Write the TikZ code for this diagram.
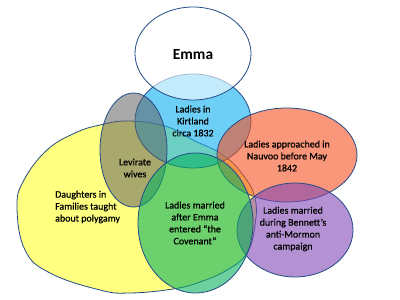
\documentclass[tikz,border=0pt]{standalone}
\usepackage{fontspec}
\setmainfont{Carlito}
\newfontfamily\lblfont[FakeBold=0.7]{Carlito}
\definecolor{edgec}{RGB}{35,75,135}
\definecolor{yel}{RGB}{255,255,128}
\definecolor{blu}{RGB}{12,175,240}
\definecolor{gry}{RGB}{94,94,94}
\definecolor{tea}{RGB}{10,178,95}
\definecolor{sal}{RGB}{247,80,33}
\definecolor{pur}{RGB}{130,72,180}
\begin{document}
\begin{tikzpicture}[x=1bp,y=-1bp,
  setshape/.style={draw=edgec, line width=0.8pt, fill opacity=0.6, draw opacity=1},
  lbl/.style={font=\lblfont\fontsize{10}{12}\selectfont, align=center, inner sep=0pt, text=black}]
\useasboundingbox (0,0) rectangle (400,300);
\fill[white] (0,0) rectangle (400,300);
% Daughters (yellow)
\path[setshape, fill=yel, fill opacity=1] plot[smooth cycle, tension=0.7] coordinates
  {(17,207) (24,180) (47,150) (75,133) (100,125) (128,121) (165,126) (193,140) (223,155) (243,175) (255,198) (255,225) (247,253) (227,270) (200,282) (173,289) (130,293) (100,290) (50,273) (25,250)};
% Kirtland (blue)
\path[setshape, fill=blu] (193,121) ellipse [x radius=58bp, y radius=47bp];
% Levirate (gray)
\path[setshape, fill=gry, fill opacity=0.53] (133.5,150) ellipse [x radius=33.5bp, y radius=57bp];
% Nauvoo (salmon)
\path[setshape, fill=sal] (287,155) ellipse [x radius=70bp, y radius=47bp];
% Bennett (purple)
\path[setshape, fill=pur] (295,230) ellipse [x radius=58bp, y radius=47bp];
% After Emma (teal)
\path[setshape, fill=tea] (195.5,223) ellipse [x radius=57.5bp, y radius=70bp];
% Emma (white)
\path[setshape, fill=white] (193,53.5) ellipse [x radius=58bp, y radius=46.5bp];

\node[lbl, font=\fontsize{15.5}{18}\selectfont\bfseries] (emma) at (193,55) {Emma};
\node[lbl] (kirt) at (193,121) {Ladies in\\Kirtland\\circa 1832};
\node[lbl] (lev) at (135,168) {Levirate\\wives};
\node[lbl, align=left, anchor=west] (daught) at (55,207) {Daughters in\\Families taught\\about polygamy};
\node[lbl] (after) at (195,223) {Ladies married\\after Emma\\entered “the\\Covenant”};
\node[lbl] (nauvoo) at (287,156) {Ladies approached in\\Nauvoo before May\\1842};
\node[lbl] (bennett) at (293,229) {Ladies married\\during Bennett’s\\anti-Mormon\\campaign};
\end{tikzpicture}
\end{document}
